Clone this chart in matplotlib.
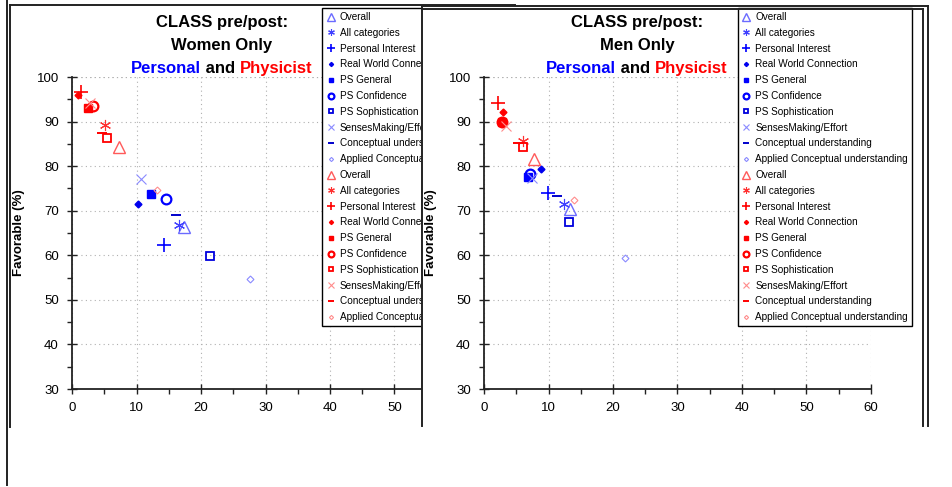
import matplotlib
matplotlib.use('Agg')
import matplotlib.pyplot as plt
from matplotlib.patches import Rectangle
from matplotlib.lines import Line2D

plt.rcParams['font.family'] = ['Liberation Sans', 'DejaVu Sans']

# categories shown in the legends
categories = ['Overall', 'All categories', 'Personal Interest', 'Real World Connection',
              'PS General', 'PS Confidence', 'PS Sophistication', 'SensesMaking/Effort',
              'Conceptual understanding', 'Applied Conceptual understanding']

# women: "Personal" (blue) and "Physicist" (red), shift (x) vs favorable % (y)
women_personal_x = [17.4, 16.6, 14.3, 10.2, 12.3, 14.5, 21.4, 10.7, 16.2, 27.6]
women_personal_y = [66.3, 66.8, 62.2, 71.6, 73.7, 72.7, 59.8, 77.1, 69.0, 54.7]
women_physicist_x = [7.3, 5.1, 1.35, 1.0, 2.5, 3.2, 5.5, 2.8, 4.7, 13.2]
women_physicist_y = [84.2, 89.2, 96.7, 95.9, 93.1, 93.6, 86.4, 94.1, 87.5, 74.6]

# men
men_personal_x = [13.4, 12.4, 9.9, 8.9, 6.85, 7.2, 13.2, 7.5, 11.3, 21.9]
men_personal_y = [70.3, 71.5, 74.0, 79.3, 77.6, 78.2, 67.5, 77.3, 73.3, 59.5]
men_physicist_x = [7.8, 6.0, 2.2, 3.0, 2.8, 2.8, 6.1, 3.4, 5.3, 14.0]
men_physicist_y = [81.7, 85.6, 94.1, 92.1, 89.8, 89.8, 84.4, 89.1, 85.3, 72.4]

# marker style per category: (marker, size, filled, edge width)
styles = [('^', 9, False, 1.0), ((6, 2, 0), 8, False, 0.8), ('+', 10, False, 1.2),
          ('D', 3.5, True, 1.0), ('s', 5.5, True, 1.0), ('o', 7, False, 1.6),
          ('s', 6, False, 1.3), ('x', 7, False, 0.8), ('_', 7, False, 1.4),
          ('D', 3.5, False, 0.8)]
blues = ['#6b6bff', '#4040ff', '#0000ff', '#0000ee', '#0000ff', '#0000ff',
         '#0000dd', '#8a8aff', '#0000cc', '#8a8aff']
reds = ['#ff5a5a', '#ff3030', '#ff0000', '#ff0000', '#ff0000', '#ff0000',
        '#ff0000', '#ff8c8c', '#ff0000', '#ff8c8c']

W, H = 953, 487
fig = plt.figure(figsize=(W / 100, H / 100), dpi=100)


def fx(px):
    return px / W


def fy(py):
    return 1 - py / H


def draw_series(ax, xs, ys, colors):
    for i, lab in enumerate(categories):
        m, ms, filled, mew = styles[i]
        ax.plot([xs[i]], [ys[i]], linestyle='none', marker=m, markersize=ms,
                markeredgewidth=mew, color=colors[i],
                markerfacecolor=colors[i] if filled else 'none',
                label=lab, zorder=3)


def setup_axes(ax):
    ax.set_xlim(0, 60)
    ax.set_ylim(30, 100)
    ax.set_xticks(range(0, 61, 10))
    ax.set_yticks(range(30, 101, 10))
    ax.set_xticks(range(5, 60, 10), minor=True)
    ax.set_yticks(range(35, 100, 10), minor=True)
    ax.spines['top'].set_visible(False)
    ax.spines['right'].set_visible(False)
    for s in ('left', 'bottom'):
        ax.spines[s].set_color('#222222')
        ax.spines[s].set_linewidth(1.3)
    ax.tick_params(which='major', direction='inout', length=7, width=1.0,
                   labelsize=9.5, pad=6, color='#222222')
    ax.tick_params(which='minor', direction='out', length=3.5, width=1.0,
                   color='#222222')
    ax.grid(True, which='major', linestyle=(0, (1, 3)), color='#b0b0b0', linewidth=0.8)
    ax.axhline(100, linestyle=(0, (1, 3)), color='#b0b0b0', linewidth=0.8, zorder=0)
    ax.set_ylabel('Favorable (%)', fontsize=9.5, fontweight='bold')
    ax.yaxis.set_label_coords(-0.122, 0.5)


def legend(ax, left_px):
    ax.legend(loc='upper left', bbox_to_anchor=(fx(left_px), fy(8)),
              bbox_transform=fig.transFigure, fontsize=7.2, markerscale=0.6,
              frameon=True, fancybox=False, edgecolor='black', framealpha=1,
              borderpad=0.4, labelspacing=0.58, handlelength=0.9,
              handletextpad=0.45, borderaxespad=0, numpoints=1)


def title(cx, subtitle):
    fig.text(fx(cx), fy(27), 'CLASS pre/post:', ha='center', va='baseline',
             fontsize=12, fontweight='bold')
    fig.text(fx(cx), fy(50), subtitle, ha='center', va='baseline',
             fontsize=12, fontweight='bold')
    r = fig.canvas.get_renderer()
    parts = [('Personal', 'blue'), (' and ', 'black'), ('Physicist', 'red')]
    txts = [fig.text(0, fy(73), p, color=c, fontsize=12, fontweight='bold',
                     va='baseline') for p, c in parts]
    widths = [t.get_window_extent(renderer=r).width for t in txts]
    x = cx - sum(widths) / 2
    for t, w in zip(txts, widths):
        t.set_x(fx(x))
        x += w


# left panel (women)
ax1 = fig.add_axes([fx(72), fy(389), fx(387), 312 / H])
setup_axes(ax1)
draw_series(ax1, women_personal_x, women_personal_y, blues)
draw_series(ax1, women_physicist_x, women_physicist_y, reds)
legend(ax1, 322)

# right panel sits on top of the left one
cover = Rectangle((fx(422), fy(426)), fx(923 - 422), 420 / H, transform=fig.transFigure,
                  facecolor='white', edgecolor='none', zorder=3)
fig.add_artist(cover)

ax2 = fig.add_axes([fx(484), fy(389), fx(387), 312 / H], zorder=4)
ax2.patch.set_alpha(0)
setup_axes(ax2)
draw_series(ax2, men_personal_x, men_personal_y, blues)
draw_series(ax2, men_physicist_x, men_physicist_y, reds)
legend(ax2, 738)

title(222, 'Women Only')
title(637, 'Men Only')

# frame lines of the pasted panels
frame = [((7, 0), (7, 485)), ((10, 5), (10, 427)), ((10, 5), (515, 5)),
         ((422, 6), (422, 426)), ((422, 6), (928, 6)), ((422, 9), (923, 9)),
         ((923, 9), (923, 426)), ((928, 6), (928, 426))]
for (x0, y0), (x1, y1) in frame:
    fig.add_artist(Line2D([fx(x0), fx(x1)], [fy(y0), fy(y1)], transform=fig.transFigure,
                          color='#222222', linewidth=1.4, zorder=6))

fig.savefig('out.png', dpi=100)
